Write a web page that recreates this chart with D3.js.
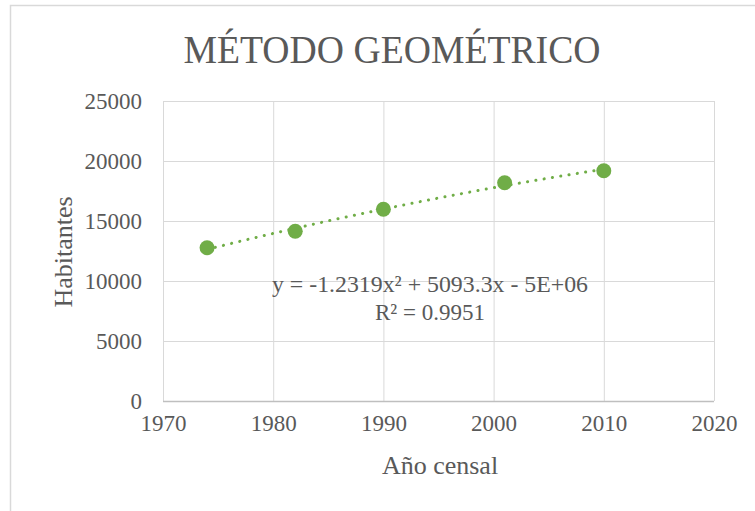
<!DOCTYPE html>
<html>
<head>
<meta charset="utf-8">
<script src="https://cdn.jsdelivr.net/npm/d3@7"></script>
<style>
  body { margin: 0; background: #fff; }
  svg { display: block; font-family: "Liberation Serif", "Times New Roman", serif; }
</style>
</head>
<body>
<div id="chart"></div>
<script>
// Data
const years = [1974, 1982, 1990, 2001, 2010];
const habitantes = [12775, 14140, 15975, 18190, 19190];
const xTicks = [1970, 1980, 1990, 2000, 2010, 2020];
const yTicks = [0, 5000, 10000, 15000, 20000, 25000];
const titleText = "MÉTODO GEOMÉTRICO";
const xTitle = "Año censal";
const yTitle = "Habitantes";
const eqText = "y = -1.2319x² + 5093.3x - 5E+06";
const r2Text = "R² = 0.9951";

const W = 755, H = 511;
const margin = { top: 101, right: 41, bottom: 110, left: 163 };
const width = W - margin.left - margin.right;
const height = H - margin.top - margin.bottom;

const textColor = "#595959";
const green = "#70AD47";
const gridColor = "#d9d9d9";
const serif = "'Liberation Serif', 'Times New Roman', serif";

const svg = d3.select("#chart")
  .append("svg")
  .attr("width", W)
  .attr("height", H);

// Chart border (runs off the right and bottom edges)
svg.append("rect")
  .attr("x", 10.5)
  .attr("y", 5.5)
  .attr("width", 900)
  .attr("height", 700)
  .attr("fill", "#fff")
  .attr("stroke", gridColor)
  .attr("stroke-width", 1.5);

const g = svg.append("g")
  .attr("transform", `translate(${margin.left},${margin.top})`);

const xScale = d3.scaleLinear().domain([1970, 2020]).range([0, width]);
const yScale = d3.scaleLinear().domain([0, 25000]).range([height, 0]);

// Grid lines
g.append("g")
  .call(d3.axisLeft(yScale).tickValues(yTicks).tickSize(-width).tickFormat(""))
  .call(a => a.select(".domain").remove())
  .call(a => a.selectAll("line").attr("stroke", gridColor));

g.append("g")
  .attr("transform", `translate(0,${height})`)
  .call(d3.axisBottom(xScale).tickValues(xTicks).tickSize(-height).tickFormat(""))
  .call(a => a.select(".domain").remove())
  .call(a => a.selectAll("line").attr("stroke", gridColor));

// Bottom axis line
g.append("line")
  .attr("x1", 0).attr("x2", width)
  .attr("y1", height + 0.5).attr("y2", height + 0.5)
  .attr("stroke", "#bfbfbf")
  .attr("stroke-width", 1.5);

// Tick labels
g.append("g")
  .call(d3.axisLeft(yScale).tickValues(yTicks).tickSize(0).tickPadding(21).tickFormat(d3.format("d")))
  .attr("font-family", serif)
  .attr("font-size", 23)
  .call(a => a.select(".domain").remove())
  .call(a => a.selectAll("text").attr("fill", textColor));

g.append("g")
  .attr("transform", `translate(0,${height})`)
  .call(d3.axisBottom(xScale).tickValues(xTicks).tickSize(0).tickPadding(14).tickFormat(d3.format("d")))
  .attr("font-family", serif)
  .attr("font-size", 23)
  .call(a => a.select(".domain").remove())
  .call(a => a.selectAll("text").attr("fill", textColor));

// Title
svg.append("text")
  .attr("x", 392)
  .attr("y", 63)
  .attr("text-anchor", "middle")
  .attr("fill", textColor)
  .attr("font-size", "41px")
  .attr("textLength", 417)
  .attr("lengthAdjust", "spacingAndGlyphs")
  .text(titleText);

// Axis titles
svg.append("text")
  .attr("x", 440)
  .attr("y", 474)
  .attr("text-anchor", "middle")
  .attr("fill", textColor)
  .attr("font-size", "26px")
  .text(xTitle);

svg.append("text")
  .attr("transform", "translate(72,252) rotate(-90)")
  .attr("text-anchor", "middle")
  .attr("fill", textColor)
  .attr("font-size", "26px")
  .text(yTitle);

// Quadratic least-squares trendline (centred x for stability)
const x0 = d3.mean(years);
function fitQuadratic(xs, ys) {
  let s = [0, 0, 0, 0, 0], t = [0, 0, 0];
  xs.forEach((xv, i) => {
    const u = xv - x0;
    for (let k = 0; k <= 4; k++) s[k] += Math.pow(u, k);
    for (let k = 0; k <= 2; k++) t[k] += ys[i] * Math.pow(u, k);
  });
  const A = [[s[0], s[1], s[2]], [s[1], s[2], s[3]], [s[2], s[3], s[4]]];
  const det = m => m[0][0] * (m[1][1] * m[2][2] - m[1][2] * m[2][1])
    - m[0][1] * (m[1][0] * m[2][2] - m[1][2] * m[2][0])
    + m[0][2] * (m[1][0] * m[2][1] - m[1][1] * m[2][0]);
  const D = det(A);
  const coef = [0, 1, 2].map(c => {
    const M = A.map((row, r) => row.map((v, j) => (j === c ? t[r] : v)));
    return det(M) / D;
  });
  return u => coef[0] + coef[1] * u + coef[2] * u * u;
}
const fit = fitQuadratic(years, habitantes);
const xmin = d3.min(years), xmax = d3.max(years);
const trend = d3.range(0, 101).map(i => {
  const xv = xmin + (xmax - xmin) * i / 100;
  return [xv, fit(xv - x0)];
});

g.append("path")
  .datum(trend)
  .attr("fill", "none")
  .attr("stroke", green)
  .attr("stroke-width", 3)
  .attr("stroke-linecap", "round")
  .attr("stroke-dasharray", "0.1,8.3")
  .attr("d", d3.line().x(d => xScale(d[0])).y(d => yScale(d[1])));

// Points
g.selectAll(".pt")
  .data(years.map((y, i) => ({ year: y, value: habitantes[i] })))
  .join("circle")
  .attr("class", "pt")
  .attr("cx", d => xScale(d.year))
  .attr("cy", d => yScale(d.value))
  .attr("r", 7.5)
  .attr("fill", green);

// Trendline equation
svg.append("text")
  .attr("x", 430)
  .attr("y", 292)
  .attr("text-anchor", "middle")
  .attr("fill", textColor)
  .attr("font-size", "23px")
  .attr("textLength", 316)
  .attr("lengthAdjust", "spacingAndGlyphs")
  .text(eqText);

svg.append("text")
  .attr("x", 430)
  .attr("y", 320)
  .attr("text-anchor", "middle")
  .attr("fill", textColor)
  .attr("font-size", "23px")
  .text(r2Text);
</script>
</body>
</html>
